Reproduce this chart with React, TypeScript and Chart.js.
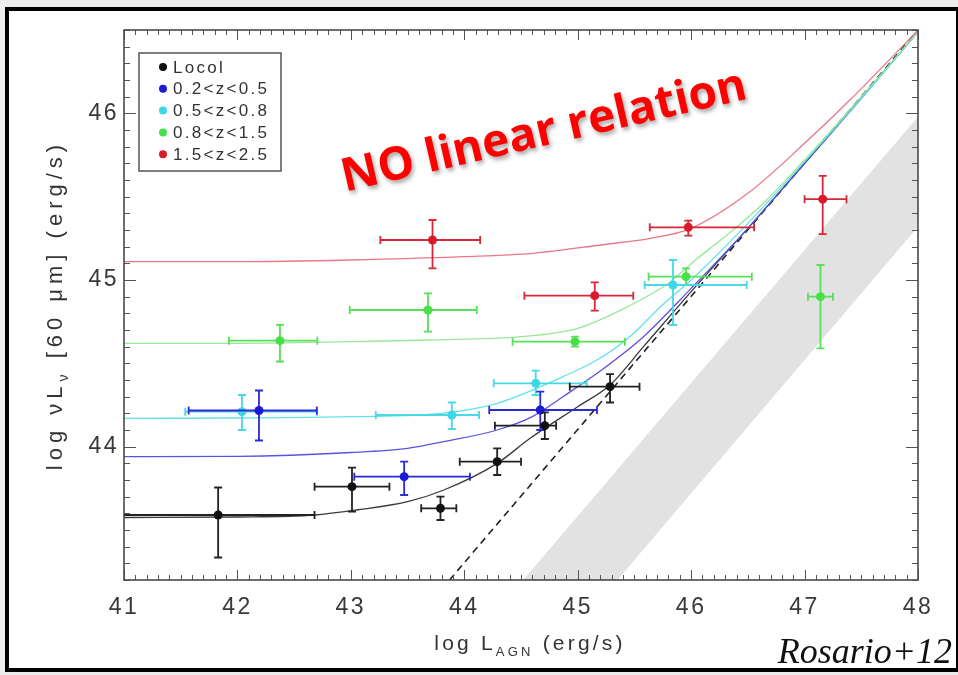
import React, { useEffect, useRef } from "react";
import { Chart, registerables } from "chart.js";

Chart.register(...registerables);

// ---------- axes ----------
const X_MIN = 41;
const X_MAX = 48;
const Y_MIN = 43.2;
const Y_MAX = 46.5;
const xTickValues = [41, 42, 43, 44, 45, 46, 47, 48];
const yTickValues = [44, 45, 46];
const MINOR_STEP = 0.1;

// ---------- legend ----------
const legendLabels = ["Locol", "0.2<z<0.5", "0.5<z<0.8", "0.8<z<1.5", "1.5<z<2.5"];
const pointColors = ["#111111", "#1a1ad2", "#3cd8e8", "#48e048", "#d81a2a"];
const errorColors = ["#222222", "#2a2ad6", "#48d8e6", "#58e058", "#d82838"];
const curveColors = ["#3a3a3a", "#5a52e2", "#62e2ea", "#98e898", "#e87888"];

// ---------- data: Local ----------
const localX = [41.83, 43.01, 43.79, 44.29, 44.71, 45.285];
const localY = [43.59, 43.76, 43.63, 43.91, 44.126, 44.36];
const localXLo = [0.85, 0.33, 0.17, 0.33, 0.44, 0.355];
const localXHi = [0.85, 0.33, 0.14, 0.21, 0.1, 0.26];
const localYLo = [0.255, 0.15, 0.07, 0.08, 0.08, 0.095];
const localYHi = [0.165, 0.114, 0.07, 0.08, 0.08, 0.075];

// ---------- data: 0.2<z<0.5 ----------
const z1X = [42.19, 43.47, 44.67];
const z1Y = [44.217, 43.82, 44.22];
const z1XLo = [0.62, 0.44, 0.45];
const z1XHi = [0.51, 0.58, 0.5];
const z1YLo = [0.18, 0.11, 0.12];
const z1YHi = [0.12, 0.09, 0.11];

// ---------- data: 0.5<z<0.8 ----------
const z2X = [42.04, 43.89, 44.63, 45.84];
const z2Y = [44.21, 44.19, 44.38, 44.97];
const z2XLo = [0.5, 0.67, 0.37, 0.25];
const z2XHi = [0.66, 0.24, 0.45, 0.65];
const z2YLo = [0.11, 0.084, 0.07, 0.24];
const z2YHi = [0.1, 0.075, 0.076, 0.15];

// ---------- data: 0.8<z<1.5 ----------
const z3X = [42.375, 43.68, 44.976, 45.955, 47.14];
const z3Y = [44.636, 44.82, 44.63, 45.02, 44.9];
const z3XLo = [0.45, 0.69, 0.55, 0.33, 0.11];
const z3XHi = [0.33, 0.43, 0.44, 0.58, 0.11];
const z3YLo = [0.125, 0.13, 0.03, 0.05, 0.31];
const z3YHi = [0.095, 0.1, 0.03, 0.05, 0.19];

// ---------- data: 1.5<z<2.5 ----------
const z4X = [43.72, 45.15, 45.975, 47.16];
const z4Y = [45.24, 44.906, 45.316, 45.485];
const z4XLo = [0.46, 0.62, 0.34, 0.16];
const z4XHi = [0.42, 0.34, 0.58, 0.21];
const z4YLo = [0.17, 0.09, 0.05, 0.21];
const z4YHi = [0.12, 0.08, 0.04, 0.14];

// ---------- model curves ----------
const curveLocalX = [41, 42, 42.68, 43.05, 43.5, 43.82, 44.29, 44.58, 45.0, 45.285, 45.58, 46.0, 46.5, 47.0, 47.5, 48];
const curveLocalY = [43.575, 43.578, 43.59, 43.62, 43.67, 43.74, 43.9, 44.05, 44.24, 44.37, 44.6, 44.93, 45.31, 45.7, 46.09, 46.49];
const curveZ1X = [41, 42, 43, 43.5, 43.82, 44.29, 44.6, 44.87, 45.17, 45.58, 46.0, 46.5, 47.0, 47.5, 48];
const curveZ1Y = [43.94, 43.942, 43.965, 43.99, 44.03, 44.1, 44.18, 44.3, 44.44, 44.66, 44.95, 45.31, 45.7, 46.09, 46.49];
const curveZ2X = [41, 42, 43, 43.8, 44.29, 44.87, 45.17, 45.46, 45.73, 46.0, 46.5, 47.0, 47.5, 48];
const curveZ2Y = [44.17, 44.172, 44.18, 44.2, 44.26, 44.42, 44.52, 44.66, 44.84, 45.0, 45.34, 45.71, 46.09, 46.49];
const curveZ3X = [41, 42, 43, 43.7, 44.5, 45.0, 45.44, 45.8, 46.02, 46.37, 46.65, 47.0, 47.5, 48];
const curveZ3Y = [44.62, 44.62, 44.63, 44.64, 44.66, 44.71, 44.84, 44.98, 45.11, 45.3, 45.47, 45.72, 46.1, 46.49];
const curveZ4X = [41, 42, 43, 44, 44.6, 45.2, 45.64, 46.0, 46.5, 47.0, 47.4, 47.93, 48];
const curveZ4Y = [45.11, 45.11, 45.12, 45.14, 45.16, 45.21, 45.25, 45.31, 45.52, 45.82, 46.08, 46.45, 46.5];

// ---------- one-to-one (dashed) relation ----------
const dashedX = [43.87, 48];
const dashedY = [43.2, 46.5];

// ---------- grey band ----------
const bandX = [44.52, 48, 48, 45.35, 44.52];
const bandY = [43.2, 45.98, 45.32, 43.2, 43.2];

const FONT = '"Liberation Sans", "DejaVu Sans", Arial, sans-serif';

const toPts = (xs: number[], ys: number[]) => xs.map((x, i) => ({ x, y: ys[i] }));

const pointSeries = [
  { x: localX, y: localY, xLo: localXLo, xHi: localXHi, yLo: localYLo, yHi: localYHi },
  { x: z1X, y: z1Y, xLo: z1XLo, xHi: z1XHi, yLo: z1YLo, yHi: z1YHi },
  { x: z2X, y: z2Y, xLo: z2XLo, xHi: z2XHi, yLo: z2YLo, yHi: z2YHi },
  { x: z3X, y: z3Y, xLo: z3XLo, xHi: z3XHi, yLo: z3YLo, yHi: z3YHi },
  { x: z4X, y: z4Y, xLo: z4XLo, xHi: z4XHi, yLo: z4YLo, yHi: z4YHi },
];
const curveSeries = [
  { x: curveLocalX, y: curveLocalY },
  { x: curveZ1X, y: curveZ1Y },
  { x: curveZ2X, y: curveZ2Y },
  { x: curveZ3X, y: curveZ3Y },
  { x: curveZ4X, y: curveZ4Y },
];

function drawRich(ctx: any, parts: { t: string; sub?: boolean }[], size: number, subSize: number, spacing: number, cx: number, baseY: number) {
  const widths = parts.map((p) => {
    ctx.font = `${p.sub ? subSize : size}px ${FONT}`;
    ctx.letterSpacing = `${spacing}px`;
    return ctx.measureText(p.t).width;
  });
  const total = widths.reduce((a, b) => a + b, 0);
  let x = cx - total / 2;
  ctx.textAlign = "left";
  ctx.textBaseline = "alphabetic";
  parts.forEach((p, i) => {
    ctx.font = `${p.sub ? subSize : size}px ${FONT}`;
    ctx.letterSpacing = `${spacing}px`;
    ctx.fillText(p.t, x, baseY + (p.sub ? size * 0.28 : 0));
    x += widths[i];
  });
  ctx.letterSpacing = "0px";
}

const errorBarPlugin = {
  id: "errorBars",
  beforeDatasetDraw(chart: any, args: any) {
    const ds = chart.data.datasets[args.index];
    if (!ds.errorBars) return;
    const { ctx, chartArea } = chart;
    const xs = chart.scales.x;
    const ys = chart.scales.y;
    const e = ds.errorBars;
    ctx.save();
    ctx.beginPath();
    ctx.rect(chartArea.left, chartArea.top, chartArea.right - chartArea.left, chartArea.bottom - chartArea.top);
    ctx.clip();
    ctx.strokeStyle = ds.errorColor;
    ctx.lineWidth = 1.8;
    const cap = 4;
    ds.data.forEach((p: any, i: number) => {
      const px = xs.getPixelForValue(p.x);
      const py = ys.getPixelForValue(p.y);
      const x0 = xs.getPixelForValue(p.x - e.xLo[i]);
      const x1 = xs.getPixelForValue(p.x + e.xHi[i]);
      const y0 = ys.getPixelForValue(p.y - e.yLo[i]);
      const y1 = ys.getPixelForValue(p.y + e.yHi[i]);
      ctx.beginPath();
      ctx.moveTo(x0, py); ctx.lineTo(x1, py);
      ctx.moveTo(px, y0); ctx.lineTo(px, y1);
      ctx.moveTo(x0, py - cap); ctx.lineTo(x0, py + cap);
      ctx.moveTo(x1, py - cap); ctx.lineTo(x1, py + cap);
      ctx.moveTo(px - cap, y0); ctx.lineTo(px + cap, y0);
      ctx.moveTo(px - cap, y1); ctx.lineTo(px + cap, y1);
      ctx.stroke();
    });
    ctx.restore();
  },
};

// widen the axis tick labels like the original IDL lettering
const spacingPlugin = {
  id: "labelSpacing",
  beforeDraw(chart: any) {
    chart.ctx.letterSpacing = "2.5px";
  },
  beforeDatasetsDraw(chart: any) {
    chart.ctx.letterSpacing = "0px";
  },
};

const decorPlugin = {
  id: "decor",
  afterDraw(chart: any) {
    const { ctx, chartArea } = chart;
    const { left, right, top, bottom } = chartArea;
    const xs = chart.scales.x;
    const ys = chart.scales.y;
    ctx.save();
    ctx.letterSpacing = "0px";
    // inward ticks on all four sides
    ctx.strokeStyle = "#555";
    ctx.lineWidth = 1;
    const nx = Math.round((X_MAX - X_MIN) / MINOR_STEP);
    for (let i = 0; i <= nx; i++) {
      const v = X_MIN + i * MINOR_STEP;
      const major = Math.abs(v - Math.round(v)) < 1e-6;
      const len = major ? 10 : 5;
      const px = Math.round(xs.getPixelForValue(v)) + 0.5;
      ctx.beginPath();
      ctx.moveTo(px, bottom); ctx.lineTo(px, bottom - len);
      ctx.moveTo(px, top); ctx.lineTo(px, top + len);
      ctx.stroke();
    }
    const ny = Math.round((Y_MAX - Y_MIN) / MINOR_STEP);
    for (let i = 0; i <= ny; i++) {
      const v = Y_MIN + i * MINOR_STEP;
      const major = Math.abs(v - Math.round(v)) < 1e-6;
      const len = major ? 12 : 6;
      const py = Math.round(ys.getPixelForValue(v)) + 0.5;
      ctx.beginPath();
      ctx.moveTo(left, py); ctx.lineTo(left + len, py);
      ctx.moveTo(right, py); ctx.lineTo(right - len, py);
      ctx.stroke();
    }
    // plot frame
    ctx.strokeStyle = "#4a4a4a";
    ctx.lineWidth = 1.6;
    ctx.strokeRect(left, top, right - left, bottom - top);

    // legend box
    const bx = left + 15;
    const by = top + 23;
    const bw = 142;
    const bh = 118;
    ctx.fillStyle = "#ffffff";
    ctx.fillRect(bx, by, bw, bh);
    ctx.strokeStyle = "#555";
    ctx.lineWidth = 1.5;
    ctx.strokeRect(bx, by, bw, bh);
    ctx.font = `17px ${FONT}`;
    ctx.textAlign = "left";
    ctx.textBaseline = "middle";
    legendLabels.forEach((lab, i) => {
      const cy = by + 14 + i * 21.8;
      ctx.fillStyle = pointColors[i];
      ctx.beginPath();
      ctx.arc(bx + 24, cy, 4, 0, Math.PI * 2);
      ctx.fill();
      ctx.fillStyle = "#333";
      ctx.letterSpacing = "2.3px";
      ctx.fillText(lab, bx + 34, cy + 1);
      ctx.letterSpacing = "0px";
    });

    // axis titles
    ctx.fillStyle = "#333";
    drawRich(ctx, [{ t: "log L" }, { t: "AGN", sub: true }, { t: " (erg/s)" }], 21, 13, 3.2, (left + right) / 2 + 9, bottom + 70);
    ctx.save();
    ctx.translate(left - 62, (top + bottom) / 2);
    ctx.rotate(-Math.PI / 2);
    drawRich(ctx, [{ t: "log \u03bdL" }, { t: "\u03bd", sub: true }, { t: " [60 \u03bcm] (erg/s)" }], 22, 14, 5, 0, 0);
    ctx.restore();

    // annotation
    ctx.save();
    ctx.translate(547, 145);
    ctx.rotate((-13 * Math.PI) / 180);
    ctx.font = `bold 46px "Open Sans", "Noto Sans", sans-serif`;
    ctx.textAlign = "center";
    ctx.textBaseline = "alphabetic";
    ctx.shadowColor = "rgba(0,0,0,0.35)";
    ctx.shadowBlur = 4;
    ctx.shadowOffsetX = 2;
    ctx.shadowOffsetY = 3;
    ctx.fillStyle = "#ff0000";
    ctx.fillText("NO linear relation", 0, 0);
    ctx.restore();

    // citation
    ctx.font = `italic 36px "Liberation Serif", "DejaVu Serif", serif`;
    ctx.fillStyle = "#111";
    ctx.textAlign = "right";
    ctx.textBaseline = "alphabetic";
    ctx.fillText("Rosario+12", 952, 663);
    ctx.restore();
  },
};

export default function App() {
  const ref = useRef<HTMLCanvasElement | null>(null);
  useEffect(() => {
    if (!ref.current) return;
    const datasets: any[] = [];
    datasets.push({
      label: "band",
      data: toPts(bandX, bandY),
      showLine: true,
      fill: "shape",
      backgroundColor: "#e2e2e2",
      borderColor: "rgba(0,0,0,0)",
      borderWidth: 0,
      pointRadius: 0,
      order: 30,
    });
    datasets.push({
      label: "one-to-one",
      data: toPts(dashedX, dashedY),
      showLine: true,
      fill: false,
      borderColor: "#222",
      borderWidth: 1.6,
      borderDash: [7, 5],
      pointRadius: 0,
      order: 20,
    });
    curveSeries.forEach((c, i) => {
      datasets.push({
        label: "model " + legendLabels[i],
        data: toPts(c.x, c.y),
        showLine: true,
        fill: false,
        borderColor: curveColors[i],
        borderWidth: 1.3,
        pointRadius: 0,
        cubicInterpolationMode: "monotone",
        order: 10 - i,
      });
    });
    pointSeries.forEach((s, i) => {
      datasets.push({
        label: legendLabels[i],
        data: toPts(s.x, s.y),
        showLine: false,
        pointRadius: 4.5,
        pointBackgroundColor: pointColors[i],
        pointBorderColor: pointColors[i],
        pointBorderWidth: 0,
        errorBars: { xLo: s.xLo, xHi: s.xHi, yLo: s.yLo, yHi: s.yHi },
        errorColor: errorColors[i],
        order: 1,
      });
    });

    const tickFont = { family: FONT, size: 23 };
    const chart = new Chart(ref.current, {
      type: "scatter",
      data: { datasets },
      options: {
        animation: false,
        responsive: false,
        devicePixelRatio: 1,
        layout: { padding: { left: 0, right: 40, top: 30, bottom: 0 } },
        plugins: { legend: { display: false }, tooltip: { enabled: false } },
        scales: {
          x: {
            type: "linear",
            min: X_MIN,
            max: X_MAX,
            grid: { display: false, drawTicks: false },
            border: { display: false },
            ticks: { font: tickFont, color: "#383838", padding: 14, autoSkip: false, maxRotation: 0, callback: (v: any) => String(v) },
            afterBuildTicks: (s: any) => { s.ticks = xTickValues.map((v) => ({ value: v })); },
            afterFit: (s: any) => { s.height = 95; },
          },
          y: {
            type: "linear",
            min: Y_MIN,
            max: Y_MAX,
            grid: { display: false, drawTicks: false },
            border: { display: false },
            ticks: { font: tickFont, color: "#383838", padding: 5, autoSkip: false, callback: (v: any) => String(v) },
            afterBuildTicks: (s: any) => { s.ticks = yTickValues.map((v) => ({ value: v })); },
            afterFit: (s: any) => { s.width = 124; },
          },
        },
      } as any,
      plugins: [spacingPlugin, errorBarPlugin, decorPlugin],
    } as any);
    return () => chart.destroy();
  }, []);

  return (
    <div style={{ position: "fixed", left: 0, top: 0, width: 958, height: 675, background: "#ececec", overflow: "hidden" }}>
      <div
        style={{
          position: "absolute",
          left: 5,
          top: 7,
          width: 955,
          height: 665,
          boxSizing: "border-box",
          border: "4px solid #000",
          background: "#fff",
        }}
      />
      <canvas ref={ref} width={958} height={675} style={{ position: "absolute", left: 0, top: 0 }} />
    </div>
  );
}
